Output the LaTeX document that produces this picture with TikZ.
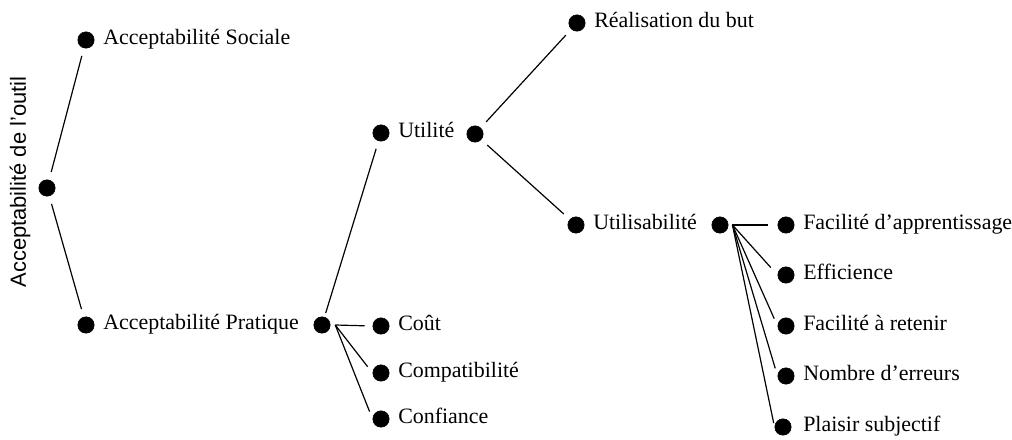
\documentclass[tikz,border=0pt]{standalone}
\usepackage{fontspec}
\setmainfont{Liberation Serif}
\setsansfont{Liberation Sans}
\usepackage{tikz}

\tikzset{
  dot/.style={circle, fill=black, draw=black, inner sep=0pt, minimum size=4.1mm},
  lbl/.style={anchor=mid west, inner sep=0pt, font=\fontsize{15.6}{18}\selectfont},
  branch/.style={line width=0.85pt, shorten <=2mm, shorten >=2mm},
  fan/.style={line width=0.85pt, shorten >=2mm}
}

\begin{document}
\begin{tikzpicture}[x=0.25mm, y=-0.25mm]

    \useasboundingbox (0,0) rectangle (1012,439);

    \node [rotate=90, inner sep=0pt, font=\sffamily\fontsize{15.6}{18}\selectfont] (r) at (20, 182) {Acceptabilité de l’outil};
    \node [dot] (a) at (47, 188) {};

    \node [dot] (b) at (86, 40) {};
    \node [lbl] (b1) at (103, 41) {Acceptabilité Sociale};
    \node [dot] (c) at (86, 325) {};
    \node [lbl] (c1) at (103, 326) {Acceptabilité Pratique};
    \node [dot] (d) at (322, 325) {};

    \node [dot] (e) at (381, 133) {};
    \node [lbl] (e1) at (398, 134) {Utilité};
    \node [dot] (f) at (475, 134) {};
    \node [dot] (g) at (381, 326) {};
    \node [lbl] (g1) at (398, 327) {Coût};
    \node [dot] (h) at (381, 373) {};
    \node [lbl] (h1) at (398, 374) {Compatibilité};
    \node [dot] (i) at (381, 419) {};
    \node [lbl] (i1) at (398, 420) {Confiance};

    \node [dot] (j) at (577, 23) {};
    \node [lbl] (j1) at (594, 24) {Réalisation du but};
    \node [dot] (k) at (576, 225) {};
    \node [lbl] (k1) at (593, 226) {Utilisabilité};
    \node [dot] (l) at (720, 225) {};

    \node [dot] (m) at (786, 225) {};
    \node [lbl] (m1) at (803, 226) {Facilité d’apprentissage};
    \node [dot] (n) at (786, 275) {};
    \node [lbl] (n1) at (803, 276) {Efficience};
    \node [dot] (o) at (786, 326) {};
    \node [lbl] (o1) at (803, 327) {Facilité à retenir};
    \node [dot] (p) at (786, 376) {};
    \node [lbl] (p1) at (803, 377) {Nombre d’erreurs};
    \node [dot] (q) at (783, 427) {};
    \node [lbl] (q1) at (803, 428) {Plaisir subjectif};

    \draw [branch] (a) to (b);
    \draw [branch] (a) to (c);
    \draw [branch, shorten <=1mm] (d) to (e);
    \draw [fan] ([xshift=1.2mm]d.east) to (g.west);
    \draw [fan] ([xshift=1.2mm]d.east) to (h.west);
    \draw [fan] ([xshift=1.2mm]d.east) to (i.west);
    \draw [branch] (f) to (j);
    \draw [branch] (f) to (k);
    \draw [fan, shorten >=2.5mm] ([xshift=1mm]l.east) to (m.west);
    \draw [fan, shorten >=2.5mm] ([xshift=1mm]l.east) to (n.west);
    \draw [fan] ([xshift=1mm]l.east) to (o.west);
    \draw [fan] ([xshift=1mm]l.east) to (p.west);
    \draw [fan, shorten >=1mm] ([xshift=1mm]l.east) to (q.west);

  \end{tikzpicture}
\end{document}
